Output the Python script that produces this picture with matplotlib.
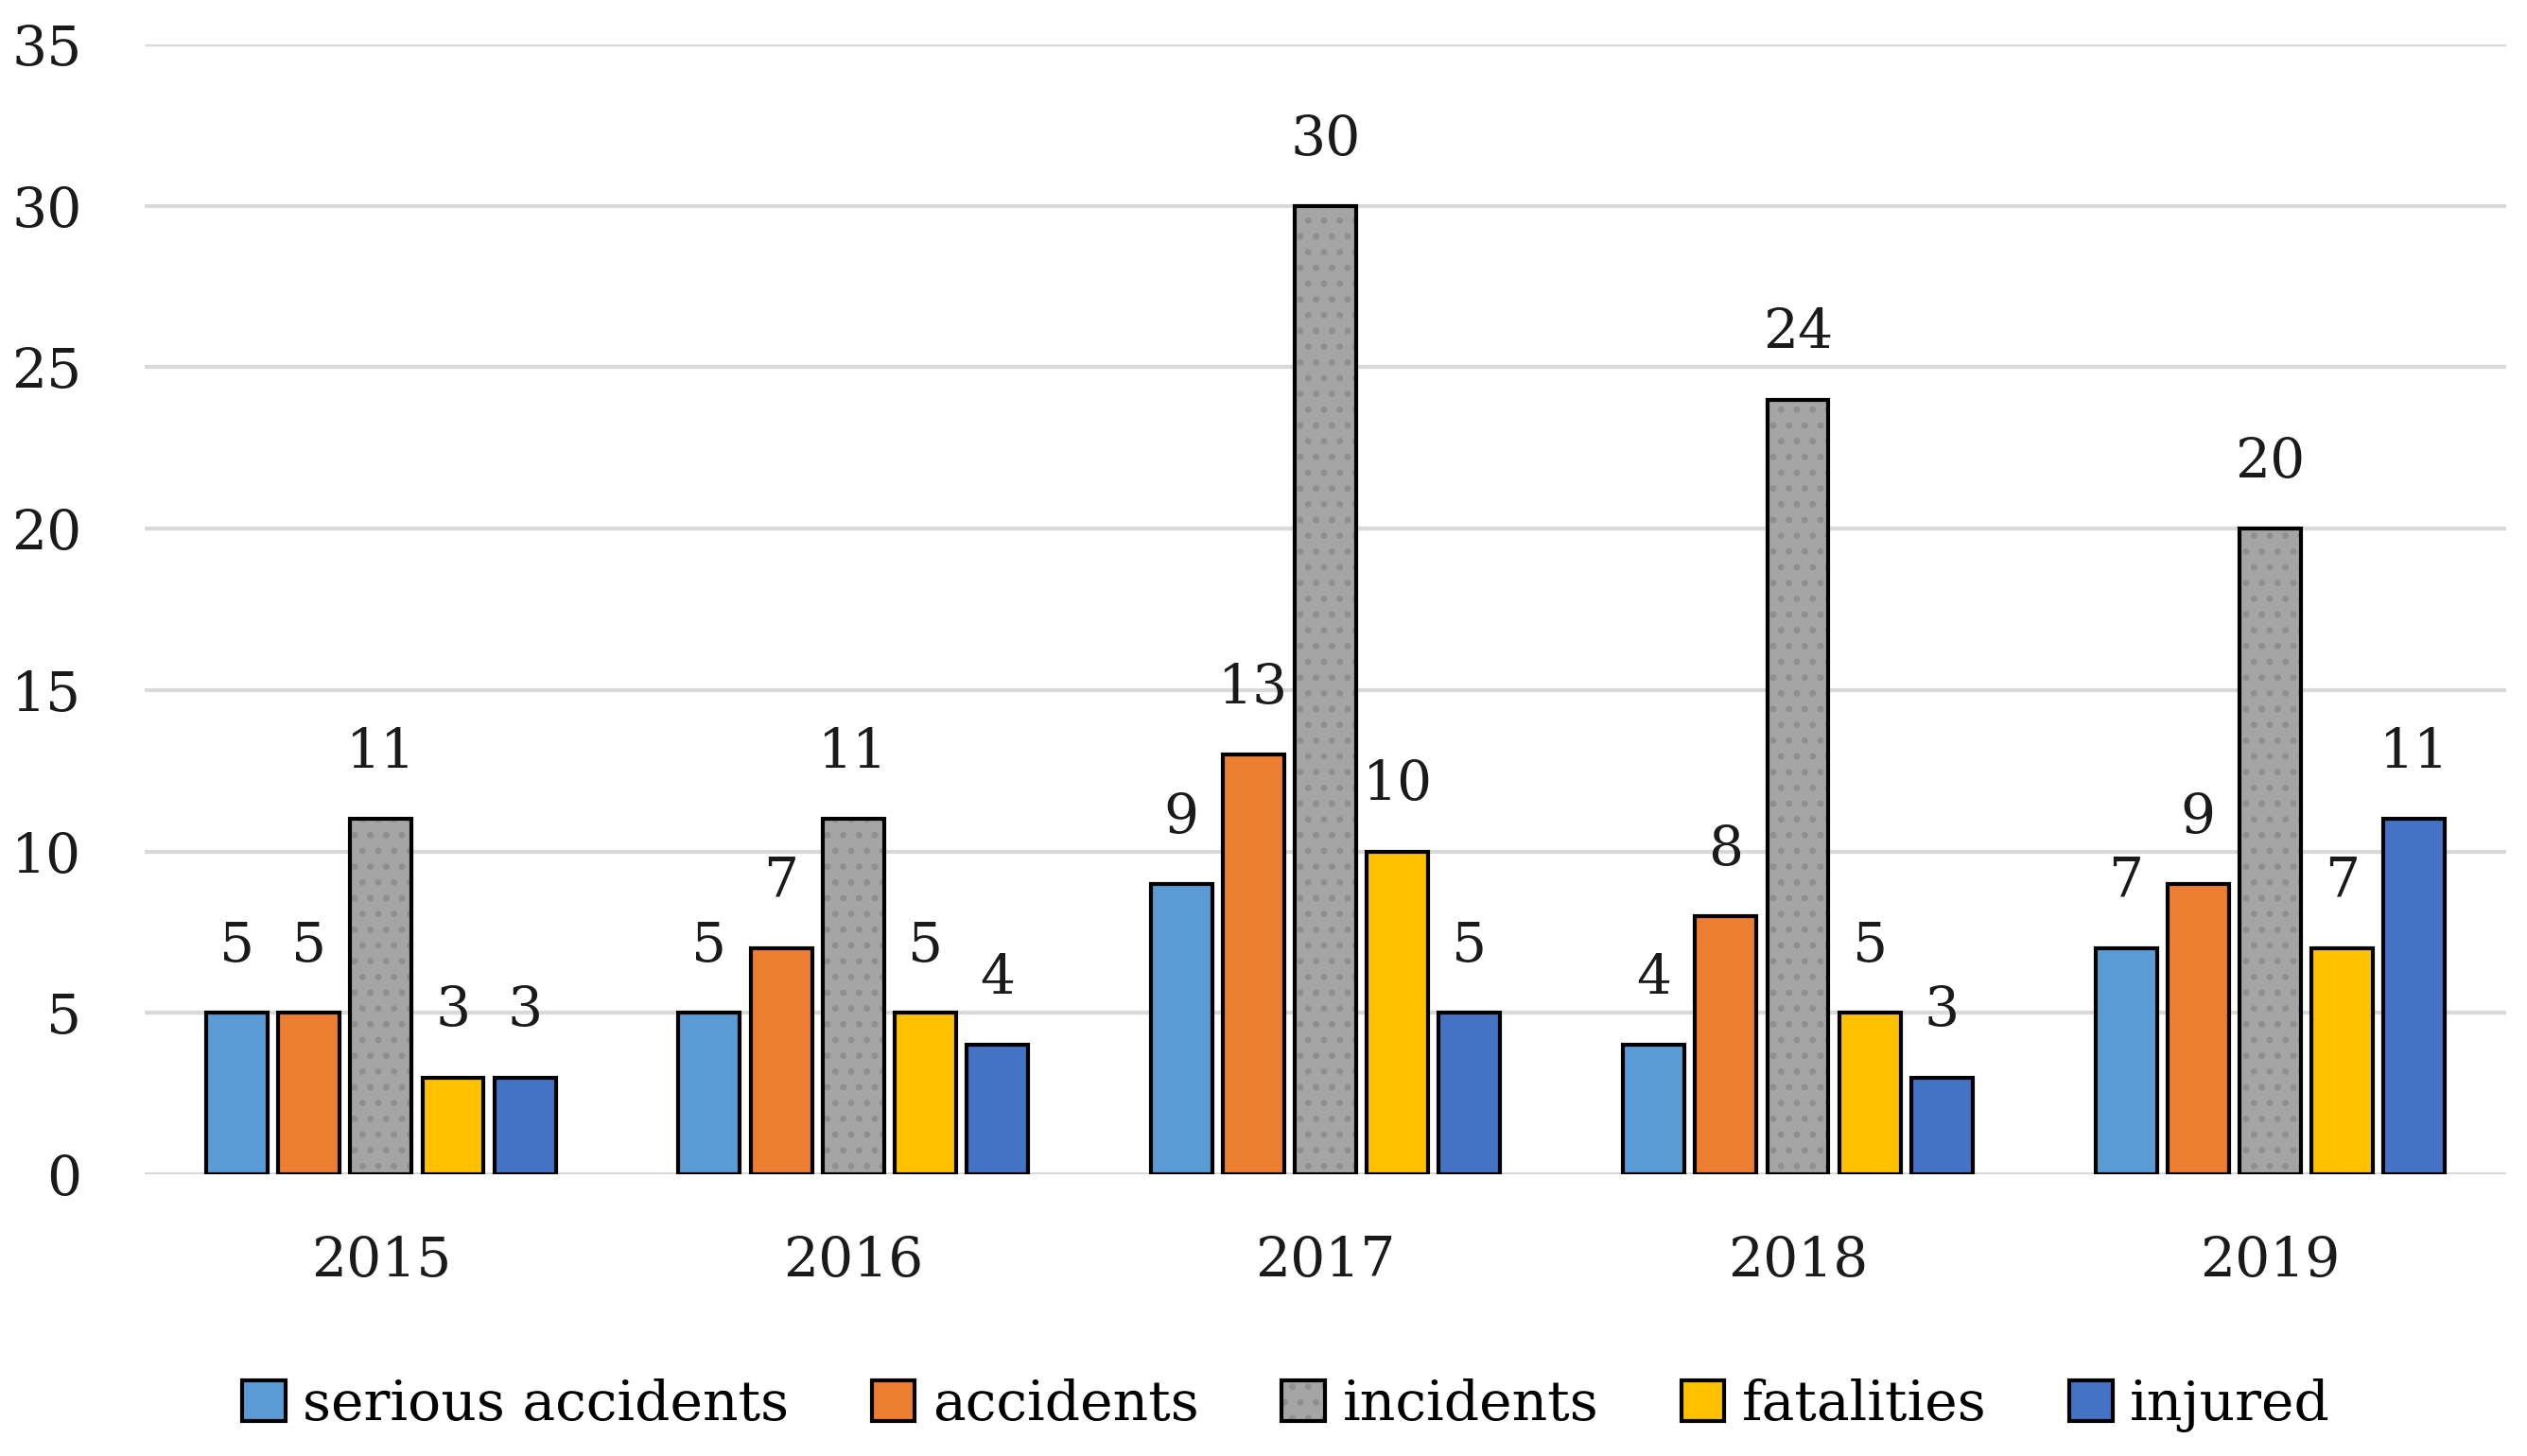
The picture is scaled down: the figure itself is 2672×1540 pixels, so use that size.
import matplotlib.pyplot as plt
import numpy as np
from matplotlib.patches import Patch
from matplotlib.legend_handler import HandlerTuple

plt.rcParams['font.family'] = ['DejaVu Serif']
plt.rcParams['hatch.linewidth'] = 2.5

years = ['2015', '2016', '2017', '2018', '2019']
series_names = ['serious accidents', 'accidents', 'incidents', 'fatalities', 'injured']
serious = [5, 5, 9, 4, 7]
accidents = [5, 7, 13, 8, 9]
incidents = [11, 11, 30, 24, 20]
fatalities = [3, 5, 10, 5, 7]
injured = [3, 4, 5, 3, 11]
values = [serious, accidents, incidents, fatalities, injured]
colors = ['#5b9bd5', '#ed7d31', '#a5a5a5', '#ffc000', '#4472c4']
dotcol = '#8f8f8f'

fs = 42
fig = plt.figure(figsize=(26.72, 15.4), dpi=100)
ax = fig.add_axes([0.0573, 0.1935, 0.9345, 0.776])

x = np.arange(len(years))
step = 0.1525
width = 0.13
for i, (name, vals, col) in enumerate(zip(series_names, values, colors)):
    pos = x + (i - 2) * step
    if name == 'incidents':
        # dotted fill, then the black outline on top
        ax.bar(pos, vals, width, color=col, hatch='.', edgecolor=dotcol,
               linewidth=0, zorder=3)
        ax.bar(pos, vals, width, facecolor='none', edgecolor='black',
               linewidth=3, zorder=4)
    else:
        ax.bar(pos, vals, width, color=col, edgecolor='black', linewidth=3, zorder=3)
    for xp, v in zip(pos, vals):
        ax.annotate(str(v), (xp, v), xytext=(0, 39), textcoords='offset points',
                    ha='center', va='baseline', fontsize=fs, color='#1a1a1a')

ax.set_xlim(-0.5, 4.5)
ax.set_ylim(0, 35)
ax.set_yticks(range(0, 36, 5))
ax.set_xticks(x)
ax.set_xticklabels(years)
ax.yaxis.grid(True, color='#d9d9d9', linewidth=3, zorder=0)
ax.set_axisbelow(True)
for s in ax.spines.values():
    s.set_visible(False)
ax.tick_params(axis='both', length=0, labelsize=fs, colors='#1a1a1a')
ax.tick_params(axis='y', pad=48)
ax.tick_params(axis='x', pad=46)

handles = [Patch(facecolor=c, edgecolor='black', linewidth=3) for c in colors]
handles[2] = (Patch(facecolor=colors[2], edgecolor=dotcol, linewidth=0, hatch='.'),
              Patch(facecolor='none', edgecolor='black', linewidth=3))
fig.legend(handles, series_names, loc='center', bbox_to_anchor=(0.509, 0.035),
           ncol=5, frameon=False, fontsize=fs, handlelength=0.78, handleheight=0.75,
           handletextpad=0.32, columnspacing=1.5,
           handler_map={tuple: HandlerTuple(ndivide=1, pad=0)})

fig.savefig('out.png', dpi=100)
